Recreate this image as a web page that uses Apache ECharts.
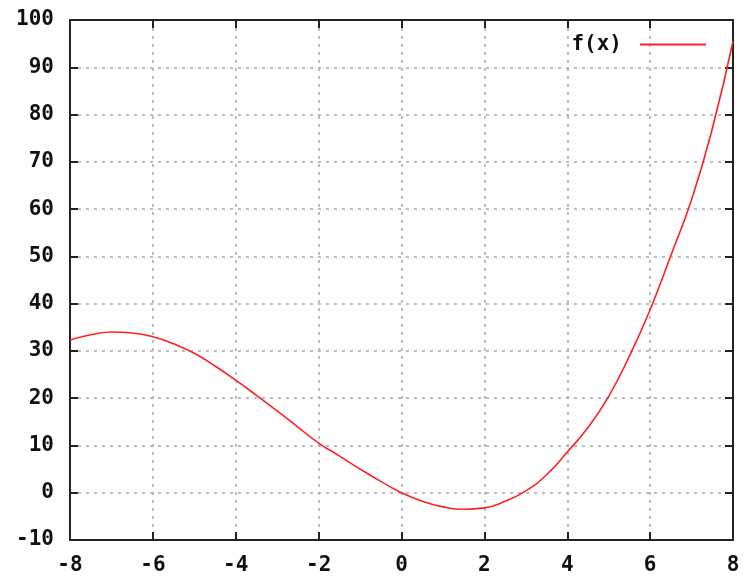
<!DOCTYPE html>
<html>
<head>
<meta charset="utf-8">
<script src="https://cdn.jsdelivr.net/npm/echarts@6/dist/echarts.min.js"></script>
<style>
  html, body { margin: 0; padding: 0; background: #fff; }
  #chart { width: 748px; height: 579px; }
</style>
</head>
<body>
<div id="chart"></div>
<script>
// values
var xValues = [-8, -7.5, -7, -6.5, -6, -5.5, -5, -4.5, -4, -3.5, -3, -2.5, -2, -1.5, -1, -0.5,
    0, 0.5, 1, 1.5, 2, 2.5, 3, 3.5, 4, 4.5, 5, 5.5, 6, 6.5, 7, 7.5, 8]
var fValues = [32.3, 33.4, 34.0, 33.8, 33.0, 31.5, 29.5, 26.8, 23.8, 20.6, 17.3, 13.9, 10.5, 7.8, 5.0, 2.4,
    0.0, -1.8, -3.0, -3.5, -3.2, -1.8, 0.4, 3.8, 8.6, 13.8, 20.4, 28.9, 38.7, 50.2, 62.0, 77.0, 95.5]
var seriesName = 'f(x)'

var labelFont = {
    fontFamily: 'DejaVu Sans Mono',
    fontWeight: 'bold',
    fontSize: 21,
    color: '#111',
}
var gridLine = {
    show: true,
    lineStyle: { color: '#a8a8a8', width: 1.5, type: [3, 5] },
}
var frameLine = { show: true, onZero: false, lineStyle: { color: '#222', width: 2 } }
var tick = { show: true, inside: true, length: 8, lineStyle: { color: '#222', width: 2 } }

var myChart = echarts.init(document.getElementById('chart'))

var points = xValues.map(function(x, i) {
    return [x, fValues[i]]
})

var option = {
    animation: false,
    backgroundColor: '#fff',
    grid: { left: 70, right: 15, top: 20, bottom: 39 },
    legend: {
        top: 29,
        right: 37,
        align: 'right',
        icon: 'path://M0,0 L66,0 L66,2 L0,2 Z',
        itemWidth: 66,
        itemHeight: 2,
        textStyle: Object.assign({}, labelFont, { padding: [0, 13, 0, 0] }),
        data: [seriesName],
    },
    xAxis: [
        {
            type: 'value',
            min: -8,
            max: 8,
            interval: 2,
            axisLine: frameLine,
            axisTick: tick,
            axisLabel: Object.assign({}, labelFont, { margin: 15 }),
            splitLine: gridLine,
        },
        {
            type: 'value',
            position: 'top',
            min: -8,
            max: 8,
            interval: 2,
            axisLine: frameLine,
            axisTick: tick,
            axisLabel: { show: false },
            splitLine: { show: false },
        },
    ],
    yAxis: [
        {
            type: 'value',
            min: -10,
            max: 100,
            interval: 10,
            axisLine: frameLine,
            axisTick: tick,
            axisLabel: Object.assign({}, labelFont, { margin: 16 }),
            splitLine: gridLine,
        },
        {
            type: 'value',
            position: 'right',
            min: -10,
            max: 100,
            interval: 10,
            axisLine: frameLine,
            axisTick: tick,
            axisLabel: { show: false },
            splitLine: { show: false },
        },
    ],
    series: [
        {
            name: seriesName,
            type: 'line',
            smooth: true,
            showSymbol: false,
            color: '#ff2020',
            lineStyle: { color: '#ff2020', width: 1.6 },
            data: points,
        },
    ],
}
myChart.setOption(option)
</script>
</body>
</html>
